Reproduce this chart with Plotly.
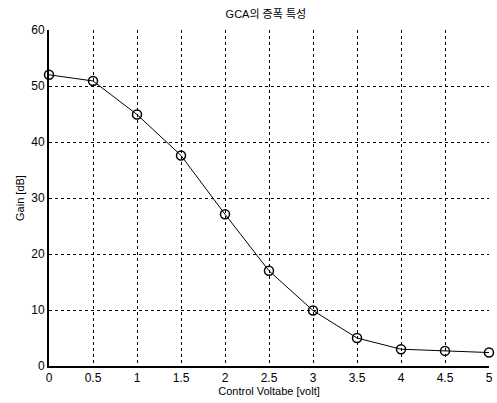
import plotly.graph_objects as go

voltage = [0, 0.5, 1, 1.5, 2, 2.5, 3, 3.5, 4, 4.5, 5]
gain_db = [52, 50.9, 44.9, 37.6, 27.1, 17.0, 9.9, 5.0, 3.0, 2.7, 2.4]
x_ticks = [0, 0.5, 1, 1.5, 2, 2.5, 3, 3.5, 4, 4.5, 5]
x_tick_text = ["0", "0.5", "1", "1.5", "2", "2.5", "3", "3.5", "4", "4.5", "5"]
y_ticks = [0, 10, 20, 30, 40, 50, 60]

font_family = "Liberation Sans, Arial, Noto Sans CJK KR, sans-serif"

fig = go.Figure()
fig.add_trace(go.Scatter(
    x=voltage, y=gain_db, mode="lines+markers",
    line=dict(color="black", width=1),
    marker=dict(symbol="circle-open", size=9, color="black", line=dict(width=1.5)),
    cliponaxis=False, showlegend=False, hoverinfo="skip",
))

fig.update_layout(
    width=497, height=403,
    margin=dict(l=49, r=8, t=30, b=37),
    paper_bgcolor="white", plot_bgcolor="white",
    font=dict(family=font_family, color="black", size=11),
    title=dict(text="GCA의 증폭 특성", x=0.535, xanchor="center", y=0.965, yanchor="middle",
               font=dict(size=11, family=font_family, color="black")),
    xaxis=dict(
        range=[0, 5], tickvals=x_ticks, ticktext=x_tick_text,
        showgrid=True, gridcolor="black", griddash="dot", gridwidth=1,
        showline=True, linecolor="black", linewidth=2, zeroline=False,
        ticks="", tickfont=dict(size=12, color="black"), automargin=False,
        title=dict(text="Control Voltabe [volt]", font=dict(size=11, color="black"), standoff=0),
    ),
    yaxis=dict(
        range=[0, 60], tickvals=y_ticks,
        showgrid=True, gridcolor="black", griddash="dot", gridwidth=1,
        showline=True, linecolor="black", linewidth=2, zeroline=False,
        ticks="", tickfont=dict(size=12, color="black"), automargin=False,
        title=dict(text="Gain [dB]", font=dict(size=11, color="black"), standoff=4),
    ),
)

# remove the default page margin so the figure sits at the window's corner
fig.write_html(
    "out.html",
    config={"displayModeBar": False},
    post_script="document.body.style.margin='0';document.body.style.overflow='hidden';",
)
